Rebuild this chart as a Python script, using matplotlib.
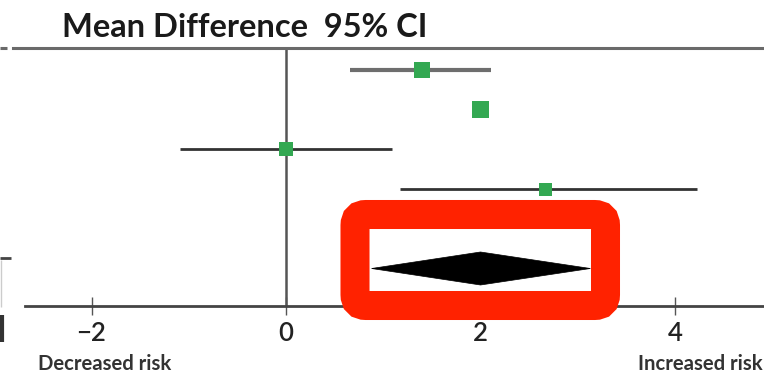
import matplotlib
matplotlib.use("Agg")
import matplotlib.pyplot as plt
from matplotlib.patches import FancyBboxPatch, Polygon
from matplotlib.lines import Line2D
from matplotlib.transforms import IdentityTransform

# ---------------- data ----------------
study_rows = [0, 1, 2, 3]
mean_diff = [1.40, 2.00, 0.00, 2.67]
ci_lower = [0.66, 1.92, -1.09, 1.17]
ci_upper = [2.11, 2.08, 1.09, 4.23]

pooled_row = 5
pooled_mean = 2.00
pooled_lower = 0.88
pooled_upper = 3.13

x_ticks = [-2, 0, 2, 4]
x_tick_labels = ["\u22122", "0", "2", "4"]

title_text = "Mean Difference  95% CI"
left_label = "Decreased risk"
right_label = "Increased risk"

# ---------------- style ----------------
W, H, DPI = 764, 376, 100
FONT = ["Lato", "DejaVu Sans"]
green = "#33a852"
ci_colors = ["#6e6e6e", "#333333", "#333333", "#333333"]
ci_widths = [3.0, 2.0, 2.0, 2.0]
marker_pt = [12.0, 12.5, 10.0, 9.5]

fig = plt.figure(figsize=(W / DPI, H / DPI), dpi=DPI)
fig.patch.set_facecolor("white")

# axes placed in pixel terms
ax_left, ax_right, ax_top, ax_bottom = 13, 764, 48, 306
ax = fig.add_axes([ax_left / W, (H - ax_bottom) / H,
                   (ax_right - ax_left) / W, (ax_bottom - ax_top) / H])

px_per_unit = 97.25
zero_px = 286
ax.set_xlim((ax_left - zero_px) / px_per_unit, (ax_right - zero_px) / px_per_unit)
row_px0, row_step = 70, 39.7
ax.set_ylim((ax_bottom - row_px0) / row_step, (ax_top - row_px0) / row_step)

for s in ["left", "right"]:
    ax.spines[s].set_visible(False)
ax.spines["top"].set_color("#6a6a6a")
ax.spines["top"].set_linewidth(2.2)
ax.spines["bottom"].set_color("#444444")
ax.spines["bottom"].set_linewidth(2.0)
ax.spines["bottom"].set_bounds((25 - zero_px) / px_per_unit, (ax_right - zero_px) / px_per_unit)

ax.set_yticks([])
ax.set_xticks(x_ticks, x_tick_labels)
ax.tick_params(axis="x", direction="inout", length=13, width=1.0, color="#555555",
               pad=4, labelsize=18.5, labelcolor="#222222")
for lab in ax.get_xticklabels():
    lab.set_family(FONT)
    lab.set_fontweight("semibold")

# zero line
ax.axvline(0, color="#555555", lw=1.8, zorder=1)

# confidence intervals and point estimates
for r, lo, hi, c, w in zip(study_rows, ci_lower, ci_upper, ci_colors, ci_widths):
    ax.hlines(r, lo, hi, colors=c, lw=w, zorder=2)
ax.scatter(mean_diff, study_rows, marker="s", s=[m ** 2 for m in marker_pt],
           color=green, edgecolors="none", zorder=3)

# pooled diamond
half_h = 16.5 / row_step
diamond = Polygon([(pooled_lower, pooled_row), (pooled_mean, pooled_row - half_h),
                   (pooled_upper, pooled_row), (pooled_mean, pooled_row + half_h)],
                  closed=True, facecolor="black", edgecolor="black", lw=0.5, zorder=4)
ax.add_patch(diamond)

# red highlight box (pixel coordinates)
box = FancyBboxPatch((355, H - 305.5), 250.5, 91,
                     boxstyle="round,pad=0,rounding_size=11",
                     transform=IdentityTransform(), fill=False,
                     edgecolor="#ff2200", lw=20.9, joinstyle="miter", zorder=10)
fig.add_artist(box)

# texts
fig.text(62 / W, (H - 37) / H, title_text, family=FONT, fontweight="bold",
         fontsize=23.5, color="#1a1a1a", ha="left", va="baseline")
fig.text(38 / W, (H - 370) / H, left_label, family=FONT, fontweight="bold",
         fontsize=14.6, color="#333333", ha="left", va="baseline")
fig.text(763 / W, (H - 370) / H, right_label, family=FONT, fontweight="bold",
         fontsize=14.6, color="#333333", ha="right", va="baseline")

# cropped fragments of the neighbouring table at the left edge
def px_line(xs, ys, lw, color):
    fig.add_artist(Line2D(xs, [H - y for y in ys], transform=IdentityTransform(),
                          lw=lw, color=color, solid_capstyle="butt"))

px_line([0, 7], [48, 48], 2.2, "#6a6a6a")
px_line([0, 11], [258, 258], 2.0, "#444444")
px_line([0.7, 0.7], [260, 307], 1.0, "#cccccc")
px_line([2, 2], [315, 342], 3.0, "#333333")

fig.savefig("out.png", dpi=DPI, facecolor="white")
